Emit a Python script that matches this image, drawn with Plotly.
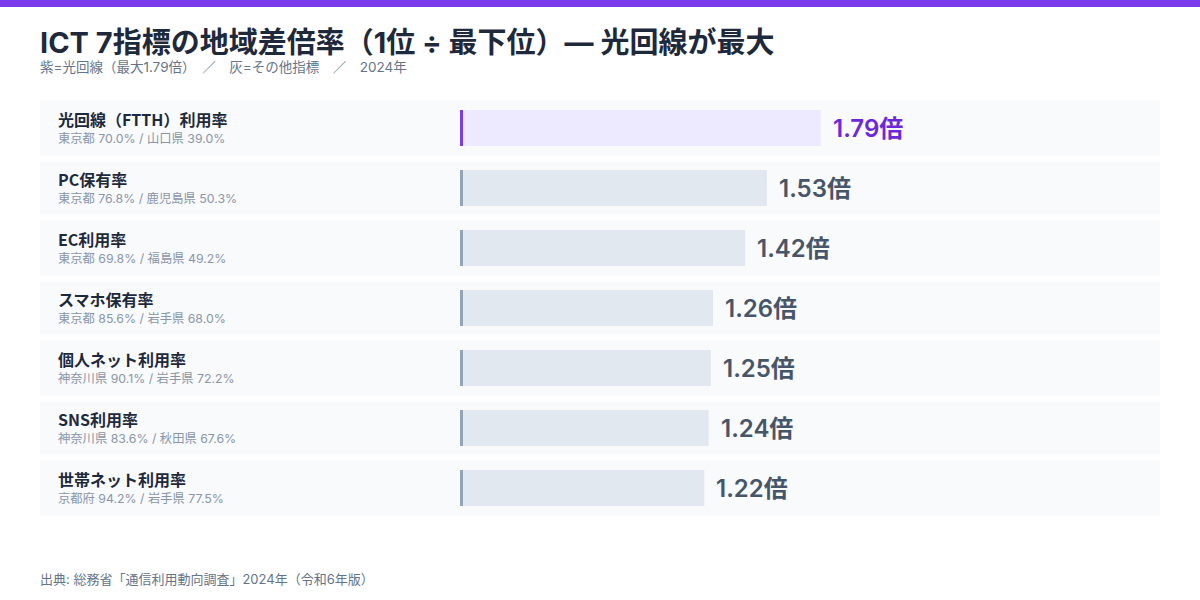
import plotly.graph_objects as go

# ---- data ----
indicators = ["光回線（FTTH）利用率", "PC保有率", "EC利用率", "スマホ保有率",
              "個人ネット利用率", "SNS利用率", "世帯ネット利用率"]
top_pref = ["東京都", "東京都", "東京都", "東京都", "神奈川県", "神奈川県", "京都府"]
top_val = [70.0, 76.8, 69.8, 85.6, 90.1, 83.6, 94.2]
bottom_pref = ["山口県", "鹿児島県", "福島県", "岩手県", "岩手県", "秋田県", "岩手県"]
bottom_val = [39.0, 50.3, 49.2, 68.0, 72.2, 67.6, 77.5]
highlight = [True, False, False, False, False, False, False]

ratios = [t / b for t, b in zip(top_val, bottom_val)]
ypos = list(range(len(indicators)))

W, H = 1200, 600
FONT = "Inter, 'Noto Sans CJK JP', sans-serif"
JP = "'Noto Sans CJK JP', Inter, sans-serif"

HL_FILL, HL_ACC, HL_TXT = "#ede9fe", "#7c3aed", "#6d28d9"
OT_FILL, OT_ACC, OT_TXT = "#e2e8f0", "#94a3b8", "#475569"

fills = [HL_FILL if h else OT_FILL for h in highlight]
accs = [HL_ACC if h else OT_ACC for h in highlight]
txtc = [HL_TXT if h else OT_TXT for h in highlight]

fig = go.Figure()
fig.add_trace(go.Bar(
    x=ratios, y=ypos, orientation="h", width=0.6,
    marker=dict(color=fills, line=dict(width=0)),
    hoverinfo="skip", showlegend=False,
))

px_per_unit = 201.0
x_left, x_right = 460, 1160
xmax = (x_right - x_left) / px_per_unit
row_top, row_bot = 98, 518  # pixel bounds of the row area

fig.update_layout(
    width=W, height=H,
    margin=dict(l=0, r=0, t=0, b=0),
    paper_bgcolor="white", plot_bgcolor="rgba(0,0,0,0)",
    xaxis=dict(domain=[x_left / W, x_right / W], range=[0, xmax],
               visible=False, fixedrange=True),
    yaxis=dict(domain=[(H - row_bot) / H, (H - row_top) / H],
               range=[len(indicators) - 0.5, -0.5],
               visible=False, fixedrange=True),
    font=dict(family=FONT),
)

shapes = []
# top accent strip
shapes.append(dict(type="rect", xref="paper", yref="paper", x0=0, x1=1,
                   y0=1 - 7 / H, y1=1, fillcolor="#7c3aed", line=dict(width=0),
                   layer="below"))
annotations = []
for i, name in enumerate(indicators):
    # row panel
    shapes.append(dict(type="rect", xref="paper", yref="y",
                       x0=40 / W, x1=1160 / W, y0=i - 0.4583, y1=i + 0.4583,
                       fillcolor="#f8fafc", line=dict(width=0), layer="below"))
    # accent line at bar start
    shapes.append(dict(type="line", xref="x", yref="y", x0=0.0075, x1=0.0075,
                       y0=i - 0.3, y1=i + 0.3, line=dict(color=accs[i], width=3),
                       layer="above"))
    annotations.append(dict(xref="paper", yref="y", x=56 / W, y=i, yshift=9,
                            xanchor="left", yanchor="middle", showarrow=False,
                            text=name,
                            font=dict(family=JP, size=16, color="#1e293b", weight=700)))
    annotations.append(dict(xref="paper", yref="y", x=56 / W, y=i, yshift=-10,
                            xanchor="left", yanchor="middle", showarrow=False,
                            text=f"{top_pref[i]} {top_val[i]:.1f}% / {bottom_pref[i]} {bottom_val[i]:.1f}%",
                            font=dict(family=FONT, size=12.3, color="#8a96a8")))
    annotations.append(dict(xref="x", yref="y", x=ratios[i], y=i, xshift=10,
                            xanchor="left", yanchor="middle", showarrow=False,
                            text=f"{ratios[i]:.2f}倍",
                            font=dict(family=FONT, size=24, color=txtc[i], weight=600)))

annotations.append(dict(xref="paper", yref="paper", x=38 / W, y=1 - 42 / H,
                        xanchor="left", yanchor="middle", showarrow=False,
                        text="ICT 7指標の地域差倍率（1位 ÷ 最下位）— 光回線が最大",
                        font=dict(family=FONT, size=29, color="#1e293b", weight=700)))
annotations.append(dict(xref="paper", yref="paper", x=38 / W, y=1 - 67 / H,
                        xanchor="left", yanchor="middle", showarrow=False,
                        text="紫=光回線（最大1.79倍）　／　灰=その他指標　／　2024年",
                        font=dict(family=FONT, size=13.5, color="#64748b")))
annotations.append(dict(xref="paper", yref="paper", x=38 / W, y=1 - 579 / H,
                        xanchor="left", yanchor="middle", showarrow=False,
                        text="出典: 総務省「通信利用動向調査」2024年（令和6年版）",
                        font=dict(family=FONT, size=13, color="#64748b")))

fig.update_layout(shapes=shapes, annotations=annotations)
fig.write_html("out.html", config={"displayModeBar": False},
               post_script="document.body.style.margin='0';")
